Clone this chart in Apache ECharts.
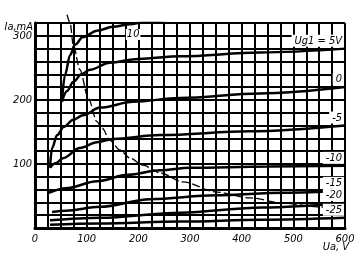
<!DOCTYPE html>
<html><head><meta charset="utf-8">
<script src="https://cdn.jsdelivr.net/npm/echarts@6/dist/echarts.min.js"></script>
<style>html,body{margin:0;padding:0;background:#fff}#c{width:361px;height:260px}</style>
</head><body><div id="c"></div>
<script>
// Tick labels
const xTicks = [0, 100, 200, 300, 400, 500, 600];
const yTicks = [100, 200, 300];
// Anode characteristics: [Ua (V), Ia (mA)] for each Ug1
const ug10  = [[52,197],[58,239],[68,270],[77,286],[93,298],[120,308],[151,314],[184,318],[209,321],[260,326]];
const ugP5  = [[52,197],[62,214],[74,228],[90,240],[106,247],[145,258],[200,264],[281,268],[435,274],[600,280]];
const ug0   = [[29,94],[33,125],[43,145],[56,158],[74,169],[93,176],[126,188],[190,197],[281,203],[435,210],[600,220]];
const ugM5  = [[29,94],[40,101],[54,109],[87,125],[120,134],[151,139],[242,145],[416,151],[600,160]];
const ugM10 = [[27,55],[60,62],[120,73],[180,83],[242,90],[300,94],[450,96],[600,97]];
const ugM15 = [[33,25],[60,27],[126,33],[223,45],[350,51],[480,55],[600,58]];
const ugM20 = [[29,12],[126,16],[281,24],[440,32],[600,39]];
const ugM25 = [[29,5],[126,7],[281,10],[440,13],[600,16]];
// Max anode dissipation curve
const pmax  = [[62,333],[68,320],[74,286],[87,247],[103,203],[120,166],[130,156],[145,137],[164,122],[184,109],[209,98],[242,86],[286,72],[352,56],[416,47],[480,39],[546,33],[600,30]];

const curves = [ug10, ugP5, ug0, ugM5, ugM10, ugM15, ugM20, ugM25];
const curveLabels = ['10', 'Ug1 = 5V', '0', '-5', '-10', '-15', '-20', '-25'];
const label10At = [190, 302];

const FONT = '"Liberation Sans Narrow","DejaVu Sans Condensed","Arial Narrow","DejaVu Sans",sans-serif';
const chart = echarts.init(document.getElementById('c'), null, {renderer: 'canvas'});

const axisText = {color: '#000', fontStyle: 'italic', fontFamily: FONT, fontSize: 11};
const series = curves.map((c, i) => ({
  type: 'line', data: c, showSymbol: false, smooth: 0.35, smoothMonotone: 'x',
  lineStyle: {color: '#000', width: 2.5}, z: 3, silent: true
}));
series.push({
  type: 'line', data: pmax, showSymbol: false, smooth: 0.3, smoothMonotone: 'x', clip: false,
  lineStyle: {color: '#000', width: 1.3, type: [8, 3]}, z: 3, silent: true
});

chart.setOption({
  animation: false,
  backgroundColor: '#fff',
  grid: {left: 35, right: 16, top: 23, bottom: 32},
  xAxis: {
    type: 'value', min: 0, max: 600, interval: 25,
    axisLine: {show: true, onZero: false, lineStyle: {color: '#000', width: 3}},
    axisTick: {show: false},
    splitLine: {show: true, lineStyle: {color: '#000', width: 2}},
    axisLabel: Object.assign({margin: 6, formatter: v => xTicks.includes(v) ? String(v) : ''}, axisText)
  },
  yAxis: {
    type: 'value', min: 0, max: 320, interval: 20,
    axisLine: {show: true, onZero: false, lineStyle: {color: '#000', width: 3}},
    axisTick: {show: false},
    splitLine: {show: true, lineStyle: {color: '#000', width: 2}},
    axisLabel: Object.assign({margin: 3, padding: [9, 0, 0, 0], formatter: v => yTicks.includes(v) ? String(v) : ''}, axisText)
  },
  series: series
});

const gfx = [];
curves.forEach((c, i) => {
  if (i === 0) return;
  const last = c[c.length - 1];
  const p = chart.convertToPixel({gridIndex: 0}, last);
  gfx.push({type: 'text', x: p[0] - 1, y: p[1] - 2, z: 100,
    style: {text: curveLabels[i], align: 'right', verticalAlign: 'bottom',
      font: 'italic 11px ' + FONT, fill: '#000', backgroundColor: '#fff', padding: [1, 2, 0, 3]}});
});
const p10 = chart.convertToPixel({gridIndex: 0}, label10At);
gfx.push({type: 'text', x: p10[0], y: p10[1], z: 100,
  style: {text: curveLabels[0], align: 'center', verticalAlign: 'middle',
    font: 'italic 11px ' + FONT, fill: '#000', backgroundColor: '#fff', padding: [0, 1]}});
gfx.push({type: 'text', x: 33, y: 22, z: 100,
  style: {text: 'Ia,mA', align: 'right', verticalAlign: 'top', font: 'italic 11px ' + FONT, fill: '#000'}});
gfx.push({type: 'text', x: 349, y: 242, z: 100,
  style: {text: 'Ua, V', align: 'right', verticalAlign: 'top', font: 'italic 11px ' + FONT, fill: '#000'}});
chart.setOption({graphic: {elements: gfx}});
</script>
</body></html>
